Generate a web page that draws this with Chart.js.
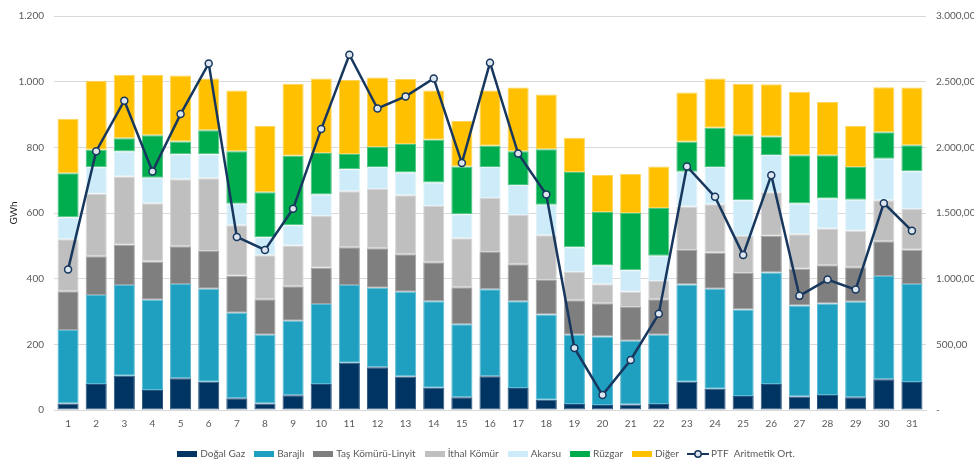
<!DOCTYPE html>
<html>
<head>
<meta charset="utf-8">
<script src="https://cdn.jsdelivr.net/npm/chart.js@4/dist/chart.umd.min.js"></script>
<style>
  html, body { margin: 0; padding: 0; background: #fff; }
  #wrap { width: 974px; height: 464px; position: relative; }
</style>
</head>
<body>
<div id="wrap"><canvas id="chart"></canvas></div>
<script>
// Days of the month
const days = ["1","2","3","4","5","6","7","8","9","10","11","12","13","14","15","16","17","18","19","20","21","22","23","24","25","26","27","28","29","30","31"];

// Generation by source (GWh)
const dogalGaz = [20,79,104,61,97,86,36,20,45,79,144,130,102,68,39,103,67,31,18,15,17,18,86,65,43,79,41,46,39,94,85];
const barajli  = [224,271,277,275,287,283,260,209,227,244,237,242,258,263,222,265,264,260,211,209,194,211,296,304,263,340,277,278,291,314,299];
const tasKomuru = [118,118,122,116,115,115,113,108,105,110,115,121,114,119,113,113,113,105,105,101,103,108,105,111,111,112,112,117,105,106,104];
const ithalKomur = [158,191,208,178,204,222,154,134,124,158,170,180,180,171,149,165,150,136,86,58,46,56,133,147,113,132,105,112,111,125,124];
const akarsu   = [67,80,76,77,76,73,65,55,62,65,67,67,69,72,73,94,91,93,76,57,66,77,106,113,109,114,94,91,94,126,115];
const ruzgar   = [134,54,41,130,39,73,160,137,211,127,47,61,87,130,146,65,103,169,229,163,174,145,91,120,198,56,147,132,100,81,79];
const diger    = [166,210,193,183,201,158,185,202,220,227,225,212,198,150,138,168,194,167,104,113,119,127,150,150,157,159,193,162,125,137,176];

// PTF arithmetic average (right axis)
const ptf = [1069,1971,2355,1816,2253,2639,1318,1219,1532,2139,2705,2296,2388,2525,1880,2644,1953,1641,472,114,381,732,1854,1623,1181,1788,869,993,917,1575,1364];

const textColor = "#595959";
const fontFamily = "Lato, 'Open Sans', sans-serif";

// Number format like "1.200" and "2.500,00"
function fmtLeft(v) {
  return v.toLocaleString("de-DE");
}
function fmtRight(v) {
  if (v === 0) return "-";
  return v.toLocaleString("de-DE", { minimumFractionDigits: 2, maximumFractionDigits: 2 });
}

function barSet(label, data, color, border) {
  return {
    type: "bar",
    label: label,
    data: data,
    backgroundColor: color,
    borderColor: border,
    borderWidth: 1,
    borderSkipped: false,
    yAxisID: "y",
    stack: "gen",
    categoryPercentage: 1,
    barPercentage: 0.75,
    order: 1,
  };
}

// Small legend swatches
function rectSwatch(color) {
  const c = document.createElement("canvas");
  c.width = 20; c.height = 6;
  const g = c.getContext("2d");
  g.fillStyle = color;
  g.fillRect(0, 0, 20, 6);
  return c;
}
function lineSwatch(color) {
  const c = document.createElement("canvas");
  c.width = 22; c.height = 10;
  const g = c.getContext("2d");
  g.strokeStyle = color;
  g.lineWidth = 2;
  g.beginPath(); g.moveTo(0, 5); g.lineTo(22, 5); g.stroke();
  g.fillStyle = "#dde6ef";
  g.lineWidth = 1.5;
  g.beginPath(); g.arc(11, 5, 3.2, 0, Math.PI * 2); g.fill(); g.stroke();
  return c;
}

const lineColor = "#17375E";

const ctx = document.getElementById("chart").getContext("2d");
new Chart(ctx, {
  data: {
    labels: days,
    datasets: [
      barSet("Doğal Gaz", dogalGaz, "#003462", "#2a557e"),
      barSet("Barajlı", barajli, "#1FA0C1", "#5bbbd4"),
      barSet("Taş Kömürü-Linyit", tasKomuru, "#7F7F7F", "#a3a3a3"),
      barSet("İthal Kömür", ithalKomur, "#BFBFBF", "#d6d6d6"),
      barSet("Akarsu", akarsu, "#CDEBF8", "#e2f3fb"),
      barSet("Rüzgar", ruzgar, "#00AD4E", "#4cc583"),
      barSet("Diğer", diger, "#FFC000", "#ffd659"),
      {
        type: "line",
        label: "PTF  Aritmetik Ort.",
        data: ptf,
        yAxisID: "y1",
        borderColor: lineColor,
        borderWidth: 2.5,
        tension: 0,
        pointRadius: 3.5,
        pointBackgroundColor: "#dde6ef",
        pointBorderColor: lineColor,
        pointBorderWidth: 1.5,
        order: 0,
      },
    ],
  },
  options: {
    responsive: true,
    maintainAspectRatio: false,
    animation: false,
    layout: { padding: { left: 0, right: 0, top: 1, bottom: -5 } },
    scales: {
      x: {
        stacked: true,
        grid: { display: false, drawTicks: false },
        border: { color: "#d9d9d9" },
        ticks: { color: textColor, font: { family: fontFamily, size: 10 }, padding: 8 },
      },
      y: {
        stacked: true,
        min: 0,
        max: 1200,
        position: "left",
        ticks: { stepSize: 200, color: textColor, font: { family: fontFamily, size: 10 }, callback: fmtLeft, padding: 10 },
        grid: { color: "#d9d9d9", drawTicks: false },
        border: { display: false },
        title: { display: true, text: "GWh", color: "#262626", font: { family: fontFamily, size: 10 }, padding: { top: 8, bottom: 2 } },
        afterFit: (scale) => { scale.width = 54; },
      },
      y1: {
        min: 0,
        max: 3000,
        position: "right",
        ticks: { stepSize: 500, color: textColor, font: { family: fontFamily, size: 10 }, callback: fmtRight, padding: 10 },
        grid: { display: false, drawTicks: false },
        border: { display: false },
        afterFit: (scale) => { scale.width = 48; },
      },
    },
    plugins: {
      tooltip: { enabled: false },
      legend: {
        position: "bottom",
        labels: {
          color: textColor,
          font: { family: fontFamily, size: 10 },
          usePointStyle: true,
          pointStyleWidth: 16,
          boxHeight: 8,
          padding: 11,
          generateLabels: function (chart) {
            const items = Chart.defaults.plugins.legend.labels.generateLabels(chart);
            items.forEach((it) => {
              const ds = chart.data.datasets[it.datasetIndex];
              it.pointStyle = ds.type === "line" ? lineSwatch(lineColor) : rectSwatch(ds.backgroundColor);
            });
            return items.sort((a, b) => a.datasetIndex - b.datasetIndex);
          },
        },
      },
    },
  },
});
</script>
</body>
</html>
